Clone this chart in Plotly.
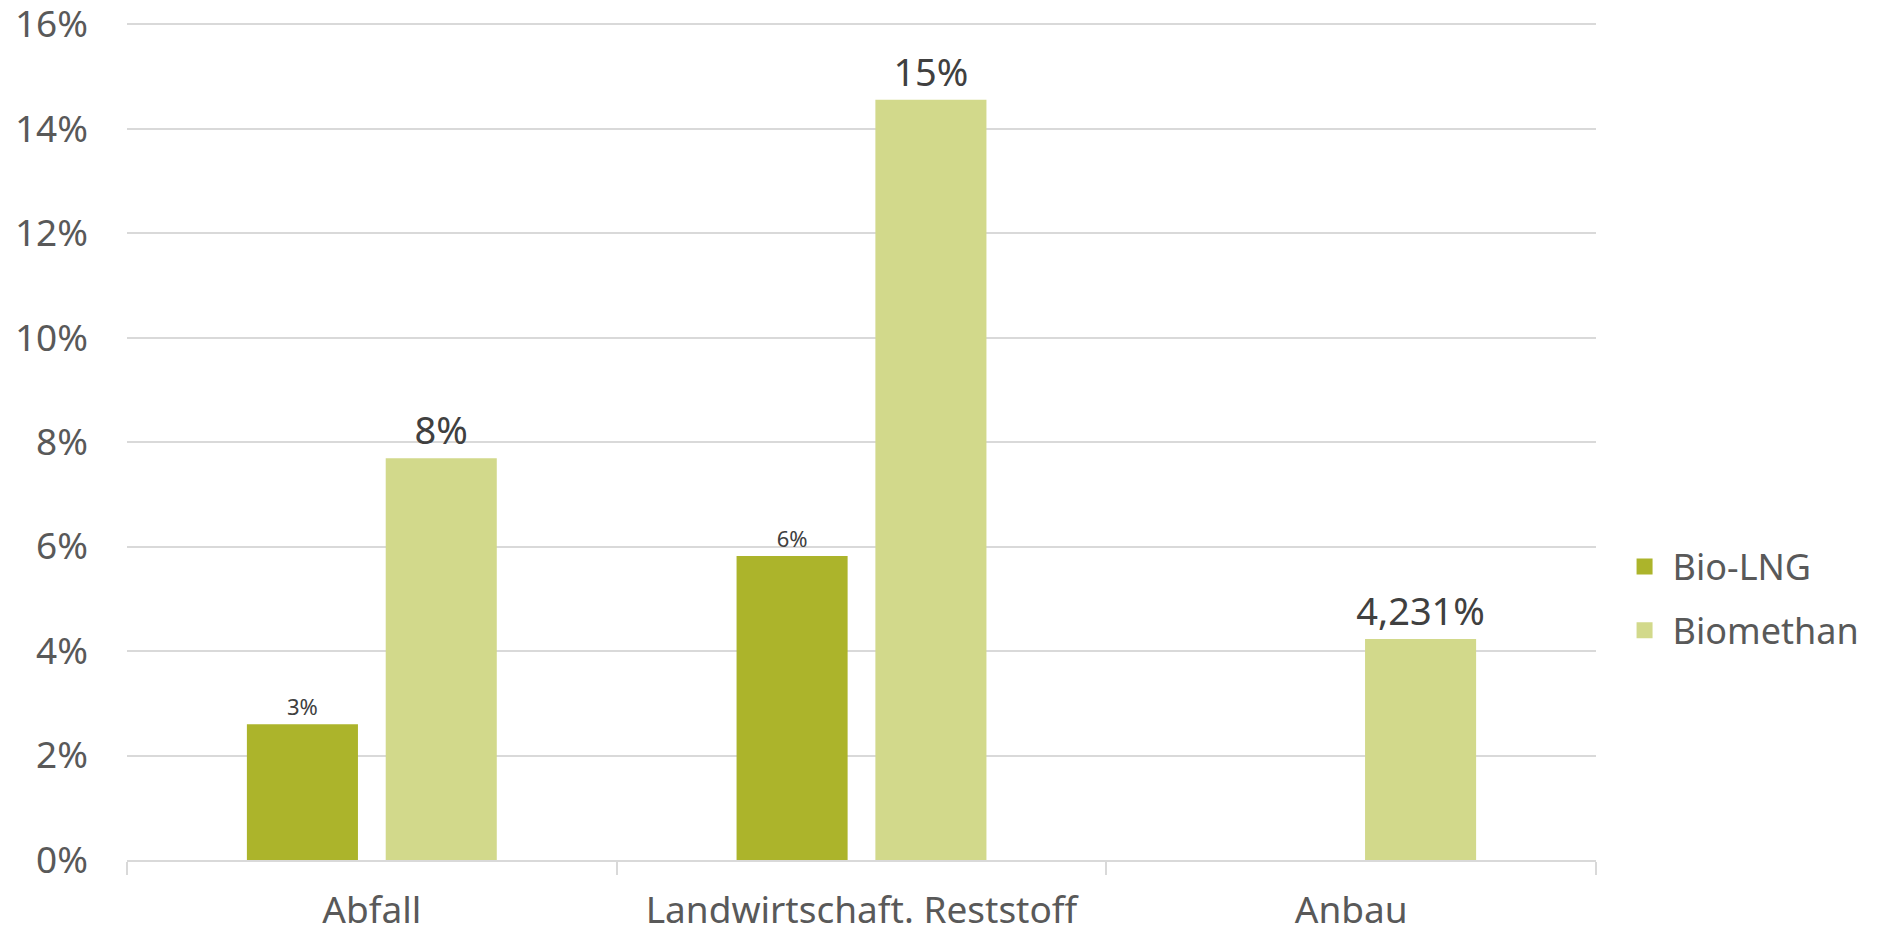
import plotly.graph_objects as go

categories = ["Abfall", "Landwirtschaft. Reststoff", "Anbau"]
bio_lng = [2.6, 5.82, None]
biomethan = [7.69, 14.55, 4.231]
bio_lng_labels = ["3%", "6%", ""]
biomethan_labels = ["8%", "15%", "4,231%"]
y_ticks = [0, 2, 4, 6, 8, 10, 12, 14, 16]
y_tick_labels = ["0%", "2%", "4%", "6%", "8%", "10%", "12%", "14%", "16%"]

FONT = "Noto Sans"
C_LNG = "#ACB42B"
C_BM = "#D2D98B"

fig = go.Figure()
fig.add_trace(go.Bar(
    name="Bio-LNG", x=categories, y=bio_lng, text=bio_lng_labels,
    textposition="outside", textfont=dict(size=22, color="#404040", family=FONT),
    marker=dict(color=C_LNG, line=dict(width=0)), constraintext="none", cliponaxis=False,
    showlegend=False,
))
fig.add_trace(go.Bar(
    name="Biomethan", x=categories, y=biomethan, text=biomethan_labels,
    textposition="outside", textfont=dict(size=38, color="#404040", family=FONT),
    marker=dict(color=C_BM, line=dict(width=0)), constraintext="none", cliponaxis=False,
    showlegend=False,
))
# legend entries with larger square swatches
for name, col, grp in [("Bio-LNG", C_LNG, "a"), ("Biomethan", C_BM, "b")]:
    fig.add_trace(go.Scatter(
        name=name, x=[None], y=[None], mode="markers", legendgroup=grp,
        marker=dict(symbol="square", size=22, color=col), showlegend=True,
    ))

fig.update_layout(
    width=1876, height=919,
    margin=dict(l=119, r=288, t=14, b=67),
    paper_bgcolor="white", plot_bgcolor="white",
    barmode="group", bargap=0.433, bargroupgap=0.2,
    font=dict(family=FONT, color="#595959", size=37),
    legend=dict(x=1.014, y=0.312, xanchor="left", yanchor="middle",
                font=dict(size=36, color="#595959", family=FONT),
                traceorder="grouped", tracegroupgap=14, itemwidth=46,
                borderwidth=0),
    showlegend=True,
)
fig.update_xaxes(
    automargin=False,
    showline=True, linecolor="#D9D9D9", linewidth=2,
    ticks="outside", tickson="boundaries", ticklen=13, tickcolor="#D9D9D9", tickwidth=2,
    ticklabelstandoff=17, ticklabeloverflow="allow",
    tickfont=dict(size=37, color="#595959", family=FONT), showgrid=False,
)
fig.update_yaxes(
    automargin=False,
    range=[0, 16.04], tickvals=y_ticks, ticktext=y_tick_labels,
    showgrid=True, gridcolor="#D9D9D9", gridwidth=2,
    zeroline=False, showline=False, ticks="", ticklabelstandoff=38,
    ticklabeloverflow="allow",
    tickfont=dict(size=37, color="#595959", family=FONT),
)
fig.write_html("out.html")
